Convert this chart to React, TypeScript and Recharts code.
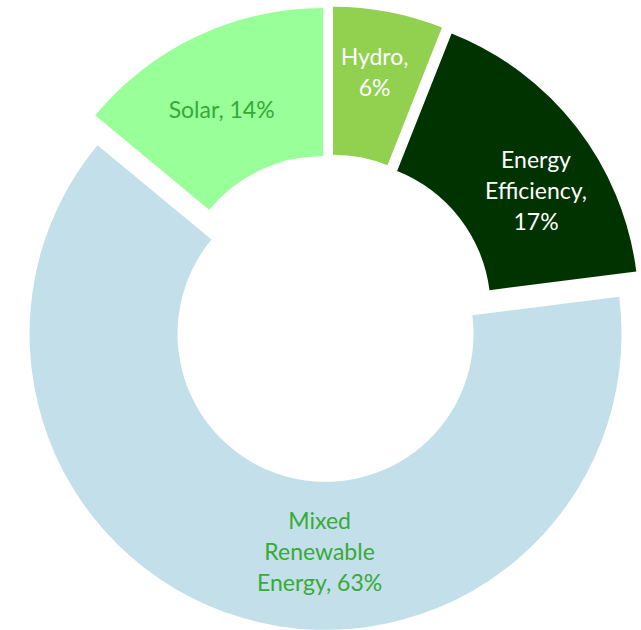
import React from "react";
import { PieChart, Pie, Cell, Sector } from "recharts";

const categories = ["Hydro", "Energy Efficiency", "Mixed Renewable Energy", "Solar"];
const shares = [6, 17, 63, 14];
const labelLines = [
  ["Hydro,", "6%"],
  ["Energy", "Efficiency,", "17%"],
  ["Mixed", "Renewable", "Energy, 63%"],
  ["Solar, 14%"],
];

const COLORS = ["#92D050", "#003300", "#C2DFEA", "#99FF99"];
const TEXT_COLORS = ["#FFFFFF", "#FFFFFF", "#38AA36", "#38A838"];
const LABEL_NUDGE = [
  [0, -12],
  [18, 18],
  [56, 5],
  [-7, 7],
];
const EXPLODE = 16;
const FONT = "Lato, 'Noto Sans', sans-serif";
const FONT_SIZE = 23;
const LINE_H = 31;
const CAP = 16.5;
const RAD = Math.PI / 180;

const data = categories.map((name, i) => ({ name, value: shares[i] }));

const ExplodedSector = (props: any) => {
  const { cx, cy, midAngle } = props;
  const dx = EXPLODE * Math.cos(-midAngle * RAD);
  const dy = EXPLODE * Math.sin(-midAngle * RAD);
  return <Sector {...props} cx={cx + dx} cy={cy + dy} stroke="none" />;
};

const renderLabel = (props: any) => {
  const { cx, cy, midAngle, innerRadius, outerRadius, index } = props;
  const r = (innerRadius + outerRadius) / 2 + EXPLODE;
  const x = cx + r * Math.cos(-midAngle * RAD) + LABEL_NUDGE[index][0];
  const yc = cy + r * Math.sin(-midAngle * RAD) + LABEL_NUDGE[index][1];
  const lines = labelLines[index];
  const y0 = yc - ((lines.length - 1) * LINE_H) / 2 + CAP / 2;
  return (
    <text
      key={`lbl-${index}`}
      x={x}
      y={y0}
      textAnchor="middle"
      fill={TEXT_COLORS[index]}
      fontFamily={FONT}
      fontSize={FONT_SIZE}
    >
      {lines.map((ln, j) => (
        <tspan key={j} x={x} y={y0 + j * LINE_H}>
          {ln}
        </tspan>
      ))}
    </text>
  );
};

export default function App() {
  return (
    <div style={{ position: "absolute", left: 0, top: 0, width: 641, height: 630, background: "#fff" }}>
      <PieChart width={641} height={630} margin={{ top: 0, right: 0, bottom: 0, left: 0 }}>
        <Pie
          data={data}
          dataKey="value"
          nameKey="name"
          cx={330}
          cy={318.5}
          innerRadius={148}
          outerRadius={296}
          startAngle={90}
          endAngle={-270}
          stroke="none"
          shape={ExplodedSector}
          label={renderLabel}
          labelLine={false}
          isAnimationActive={false}
        >
          {data.map((d, i) => (
            <Cell key={d.name} fill={COLORS[i]} />
          ))}
        </Pie>
      </PieChart>
    </div>
  );
}
